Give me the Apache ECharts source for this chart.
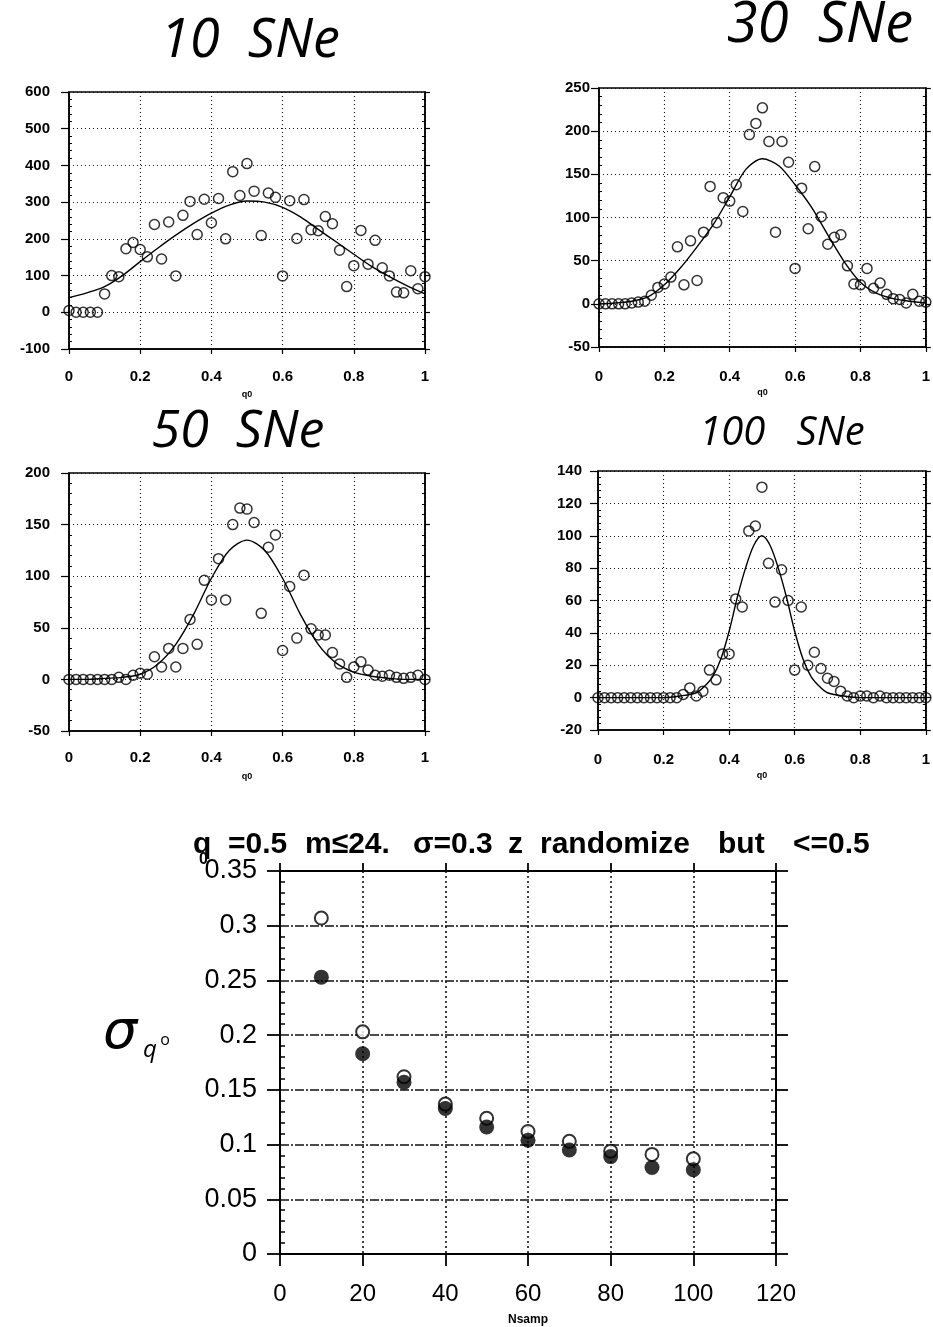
<!DOCTYPE html>
<html><head><meta charset="utf-8">
<script src="https://cdn.jsdelivr.net/npm/echarts@6/dist/echarts.min.js"></script>
<style>html,body{margin:0;padding:0;background:#fff}#c{width:933px;height:1327px}</style>
</head><body><div id="c"></div>
<script>
// ---- data ----
const q0 = [0,0.02,0.04,0.06,0.08,0.1,0.12,0.14,0.16,0.18,0.2,0.22,0.24,0.26,0.28,0.3,0.32,0.34,0.36,0.38,0.4,0.42,0.44,0.46,0.48,0.5,0.52,0.54,0.56,0.58,0.6,0.62,0.64,0.66,0.68,0.7,0.72,0.74,0.76,0.78,0.8,0.82,0.84,0.86,0.88,0.9,0.92,0.94,0.96,0.98,1];
const sne10 = [5,0,0,0,0,50,100,97,173,190,171,151,239,145,246,99,264,302,212,308,244,310,200,383,318,405,330,209,325,313,99,304,201,307,225,222,261,241,169,70,127,223,131,196,121,99,55,53,113,64,97];
const sne30 = [0,0,0,0,0,1,2,3,10,19,23,31,66,22,73,27,83,136,94,123,119,138,107,196,209,227,188,83,188,164,41,134,87,159,101,69,77,80,44,23,22,41,18,24,11,6,5,1,11,3,2];
const sne50 = [0,0,0,0,0,0,0,2,0,4,6,5,22,12,30,12,30,58,34,96,77,117,77,150,166,165,152,64,128,140,28,90,40,101,49,43,43,26,15,2,12,17,9,4,3,4,2,1,2,4,0];
const sne100 = [0,0,0,0,0,0,0,0,0,0,0,0,0,2,6,1,4,17,11,27,27,61,56,103,106,130,83,59,79,60,17,56,20,28,18,12,10,4,1,0,1,1,0,1,0,0,0,0,0,0,0];

const fitX = [0,0.05,0.1,0.15,0.2,0.25,0.3,0.35,0.4,0.45,0.5,0.55,0.6,0.65,0.7,0.75,0.8,0.85,0.9,0.95,1];
const fit10 = [40,53,70,100,138,175,210,242,270,292,303,300,286,260,226,192,158,125,97,72,50];
const fit30 = [0,1,3,8,22,42,66,92,124,156,168,160,138,112,80,49,25,12,6,3,1];
const fit50 = [0,0,1,2,5,15,34,63,98,125,135,125,98,63,34,16,7,3,1,0,0];
const fit100X = [0,0.1,0.2,0.25,0.3,0.325,0.35,0.375,0.4,0.425,0.45,0.475,0.5,0.525,0.55,0.575,0.6,0.625,0.65,0.675,0.7,0.75,0.8,0.9,1];
const fit100 = [0,0,0,1,3,7,13,24,41,62,80,94,100,94,80,62,41,24,13,7,3,1,0,0,0];

const nsamp = [10,20,30,40,50,60,70,80,90,100];
const sigOpen = [0.307,0.203,0.162,0.137,0.124,0.112,0.103,0.094,0.091,0.087];
const sigFilled = [0.253,0.183,0.157,0.133,0.116,0.104,0.095,0.089,0.079,0.077];

// ---- chart ----
const FONT = 'Liberation Sans, Arial, sans-serif';
const HAND = 'Open Sans, DejaVu Sans, sans-serif';
const BLACK = '#000';
const grids = [], xAxes = [], yAxes = [], series = [];

function smallPanel(gi, rect, ymin, ymax, yint, ylm, xlm, vals, fx, fy) {
  grids.push({left: rect[0], top: rect[1], width: rect[2], height: rect[3], show: true, borderColor: BLACK, borderWidth: 1.5});
  xAxes.push({gridIndex: gi, type: 'value', min: 0, max: 1, interval: 0.2, position: 'bottom',
    name: 'q0', nameLocation: 'middle', nameGap: 41,
    nameTextStyle: {fontSize: 9, fontWeight: 'bold', color: BLACK, fontFamily: FONT},
    axisLine: {onZero: false, lineStyle: {color: BLACK, width: 1.5}},
    axisTick: {length: 5, lineStyle: {color: BLACK, width: 1.2}},
    axisLabel: {margin: xlm, fontSize: 15, fontWeight: 'bold', color: BLACK, fontFamily: FONT},
    splitLine: {show: true, lineStyle: {color: '#111', type: [1, 3], width: 1.1}}});
  yAxes.push({gridIndex: gi, type: 'value', min: ymin, max: ymax, interval: yint, position: 'left',
    axisLine: {onZero: false, lineStyle: {color: BLACK, width: 1.5}},
    axisTick: {length: 8, lineStyle: {color: BLACK, width: 1.2}},
    minorTick: {show: true, splitNumber: 5, length: -3, lineStyle: {color: BLACK, width: 1}},
    axisLabel: {margin: ylm, fontSize: 15, fontWeight: 'bold', color: BLACK, fontFamily: FONT},
    splitLine: {show: true, lineStyle: {color: '#111', type: [1, 3], width: 1.1}}});
  yAxes.push({gridIndex: gi, type: 'value', min: ymin, max: ymax, interval: yint, position: 'right',
    axisLine: {onZero: false, lineStyle: {color: BLACK, width: 1.5}},
    axisTick: {length: 5, lineStyle: {color: BLACK, width: 1.2}},
    minorTick: {show: true, splitNumber: 5, length: -3, lineStyle: {color: BLACK, width: 1}},
    axisLabel: {show: false}, splitLine: {show: false}});
  series.push({type: 'line', xAxisIndex: gi, yAxisIndex: 2 * gi, data: fx.map((x, i) => [x, fy[i]]),
    smooth: 0.3, showSymbol: false, symbol: 'none', lineStyle: {color: BLACK, width: 1.4}, z: 3});
  series.push({type: 'scatter', xAxisIndex: gi, yAxisIndex: 2 * gi, data: q0.map((x, i) => [x, vals[i]]),
    symbol: 'circle', symbolSize: 10, clip: false,
    itemStyle: {color: 'rgba(255,255,255,0)', borderColor: BLACK, borderWidth: 1.5}, z: 4});
}

smallPanel(0, [69, 92, 356, 257], -100, 600, 100, 19, 20, sne10, fitX, fit10);
smallPanel(1, [599, 88, 331, 259], -50, 250, 50, 9, 22, sne30, fitX, fit30);
smallPanel(2, [69, 473, 356, 258], -50, 200, 50, 19, 19, sne50, fitX, fit50);
smallPanel(3, [598, 471, 331, 259], -20, 140, 20, 16, 22, sne100, fit100X, fit100);

// bottom panel
grids.push({left: 280, top: 871, width: 496, height: 385, show: true, borderColor: BLACK, borderWidth: 1.8});
xAxes.push({gridIndex: 4, type: 'value', min: 0, max: 120, interval: 20, position: 'bottom',
  name: 'Nsamp', nameLocation: 'middle', nameGap: 60,
  nameTextStyle: {fontSize: 12, fontWeight: 'bold', color: BLACK, fontFamily: FONT},
  axisLine: {onZero: false, lineStyle: {color: BLACK, width: 1.8}},
  axisTick: {length: 12, lineStyle: {color: BLACK, width: 1.8}},
  axisLabel: {margin: 28, fontSize: 24, color: BLACK, fontFamily: FONT},
  splitLine: {show: true, lineStyle: {color: '#111', type: [2, 3], width: 1.6}}});
xAxes.push({gridIndex: 4, type: 'value', min: 0, max: 120, interval: 20, position: 'top',
  axisLine: {onZero: false, lineStyle: {color: BLACK, width: 1.8}},
  axisTick: {length: 8, lineStyle: {color: BLACK, width: 1.8}},
  axisLabel: {show: false}, splitLine: {show: false}});
yAxes.push({gridIndex: 4, type: 'value', min: 0, max: 0.35, interval: 0.05, position: 'left',
  axisLine: {onZero: false, lineStyle: {color: BLACK, width: 1.8}},
  axisTick: {length: 13, lineStyle: {color: BLACK, width: 1.8}},
  minorTick: {show: true, splitNumber: 5, length: -5, lineStyle: {color: BLACK, width: 1.5}},
  axisLabel: {margin: 23, fontSize: 27, color: BLACK, fontFamily: FONT},
  splitLine: {show: true, lineStyle: {color: '#111', type: [9, 2, 2, 2], width: 1.6}}});
yAxes.push({gridIndex: 4, type: 'value', min: 0, max: 0.35, interval: 0.05, position: 'right',
  axisLine: {onZero: false, lineStyle: {color: BLACK, width: 1.8}},
  axisTick: {length: 12, lineStyle: {color: BLACK, width: 1.8}},
  minorTick: {show: true, splitNumber: 5, length: -5, lineStyle: {color: BLACK, width: 1.5}},
  axisLabel: {show: false}, splitLine: {show: false}});
series.push({type: 'scatter', xAxisIndex: 4, yAxisIndex: 8, data: nsamp.map((n, i) => [n, sigOpen[i]]),
  symbol: 'circle', symbolSize: 13, itemStyle: {color: '#fff', borderColor: BLACK, borderWidth: 2}, z: 4});
series.push({type: 'scatter', xAxisIndex: 4, yAxisIndex: 8, data: nsamp.map((n, i) => [n, sigFilled[i]]),
  symbol: 'circle', symbolSize: 15, itemStyle: {color: BLACK}, z: 5});

function hand(text, x, y, size) {
  return {type: 'text', x: x, y: y, z: 10, style: {text: text, fontSize: size, fontFamily: HAND,
    fontStyle: 'italic', fill: BLACK, align: 'center', verticalAlign: 'middle'}};
}
function ttl(text, x, size) {
  return {type: 'text', x: x, y: 845, z: 10, style: {text: text, fontSize: size || 30, fontWeight: 'bold',
    fontFamily: FONT, fill: BLACK, align: 'left', verticalAlign: 'middle'}};
}

const chart = echarts.init(document.getElementById('c'), null, {renderer: 'canvas'});
chart.setOption({
  animation: false,
  backgroundColor: '#fff',
  grid: grids, xAxis: xAxes, yAxis: yAxes, series: series,
  graphic: [
    hand('10  SNe', 250, 42, 54),
    hand('30  SNe', 820, 26, 56),
    hand('50  SNe', 238, 432, 52),
    hand('100   SNe', 782, 434, 40),
    ttl('q', 193), {type: 'text', x: 199, y: 860, z: 11, style: {text: '0', fontSize: 16, fontWeight: 'bold', fontFamily: FONT, fill: BLACK, align: 'left', verticalAlign: 'middle'}},
    ttl('=0.5', 228), ttl('m≤24.', 305), ttl('σ=0.3', 413), ttl('z', 508),
    ttl('randomize', 540), ttl('but', 718), ttl('<=0.5', 793),
    {type: 'text', x: 120, y: 1034, z: 10, style: {text: 'σ', fontSize: 54, fontStyle: 'italic', fontFamily: 'DejaVu Sans, sans-serif', fill: BLACK, align: 'center', verticalAlign: 'middle'}},
    {type: 'text', x: 150, y: 1050, z: 10, style: {text: 'q', fontSize: 24, fontStyle: 'italic', fontFamily: HAND, fill: BLACK, align: 'center', verticalAlign: 'middle'}},
    {type: 'text', x: 165, y: 1040, z: 10, style: {text: 'o', fontSize: 16, fontFamily: HAND, fill: BLACK, align: 'center', verticalAlign: 'middle'}}
  ]
});
</script>
</body></html>
